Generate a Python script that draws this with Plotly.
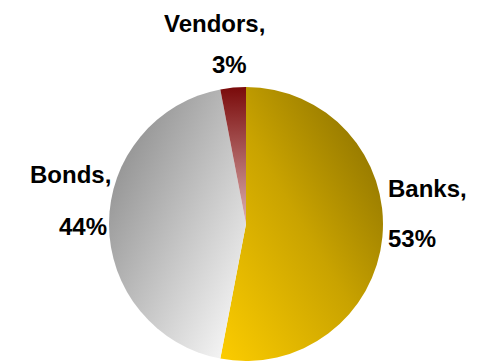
import json
import plotly.graph_objects as go

# Funding sources (share of total, %)
categories = ["Banks", "Bonds", "Vendors"]
shares = [53, 44, 3]

# Flat fallback colours and the linear shading applied to each slice
base_colors = ["#c8a000", "#c4c4c4", "#a04848"]
shading = [
    {"id": "shadeBanks", "vec": [0, 1, 1, 0], "stops": ["#fccc00", "#c9a300", "#806800"]},
    {"id": "shadeBonds", "vec": [0, 0, 1, 1], "stops": ["#808080", "#ffffff"]},
    {"id": "shadeVendors", "vec": [0, 0, 0, 1], "stops": ["#7a0a0a", "#dcb0b0"]},
]

W, H = 477, 361
cx, r = 246, 137

fig = go.Figure(
    go.Pie(
        labels=categories,
        values=shares,
        sort=False,
        direction="clockwise",
        rotation=0,
        textinfo="none",
        hoverinfo="label+percent",
        marker=dict(colors=base_colors, line=dict(width=0)),
        domain=dict(x=[(cx - r) / W, (cx + r) / W], y=[0, 2 * r / H]),
        showlegend=False,
    )
)

# Two-line labels: "<name>," and "<percent>"
total = sum(shares)
label_font = dict(family="Liberation Sans, Arial, sans-serif", size=24, color="#000000")
# (name line x, name line y, pct line x, pct line y, anchor) in pixels from top-left
label_spots = [
    (386, 188.5, 386, 238.5, "left"),
    (70, 174.5, 83, 226, "center"),
    (214, 23.5, 229.5, 64.5, "center"),
]
for name, val, (nx, ny, px, py, anc) in zip(categories, shares, label_spots):
    pct = f"{round(val / total * 100)}%"
    for text, x, y in ((f"<b>{name},</b>", nx, ny), (f"<b>{pct}</b>", px, py)):
        fig.add_annotation(
            x=x / W, y=(H - y) / H, xref="paper", yref="paper",
            text=text, showarrow=False, xanchor=anc, yanchor="middle",
            font=label_font,
        )

fig.update_layout(
    width=W, height=H,
    margin=dict(l=0, r=0, t=0, b=0),
    paper_bgcolor="#ffffff",
    plot_bgcolor="#ffffff",
)

# Swap the flat slice fills for linear gradients once the plot is drawn
shade_js = """
var gd = document.getElementById('{plot_id}');
var svg = gd.querySelector('svg.main-svg');
var ns = 'http://www.w3.org/2000/svg';
var defs = svg.querySelector('defs');
if (!defs) { defs = document.createElementNS(ns, 'defs'); svg.insertBefore(defs, svg.firstChild); }
var specs = SPECS;
specs.forEach(function (s) {
  var g = document.createElementNS(ns, 'linearGradient');
  g.setAttribute('id', s.id);
  g.setAttribute('x1', s.vec[0]); g.setAttribute('y1', s.vec[1]);
  g.setAttribute('x2', s.vec[2]); g.setAttribute('y2', s.vec[3]);
  s.stops.forEach(function (c, k) {
    var st = document.createElementNS(ns, 'stop');
    st.setAttribute('offset', k / (s.stops.length - 1));
    st.setAttribute('stop-color', c);
    g.appendChild(st);
  });
  defs.appendChild(g);
});
var paths = gd.querySelectorAll('g.slice path.surface');
paths.forEach(function (p, i) { if (specs[i]) { p.style.fill = 'url(#' + specs[i].id + ')'; } });
""".replace("SPECS", json.dumps(shading))

fig.write_html("out.html", post_script=shade_js)
